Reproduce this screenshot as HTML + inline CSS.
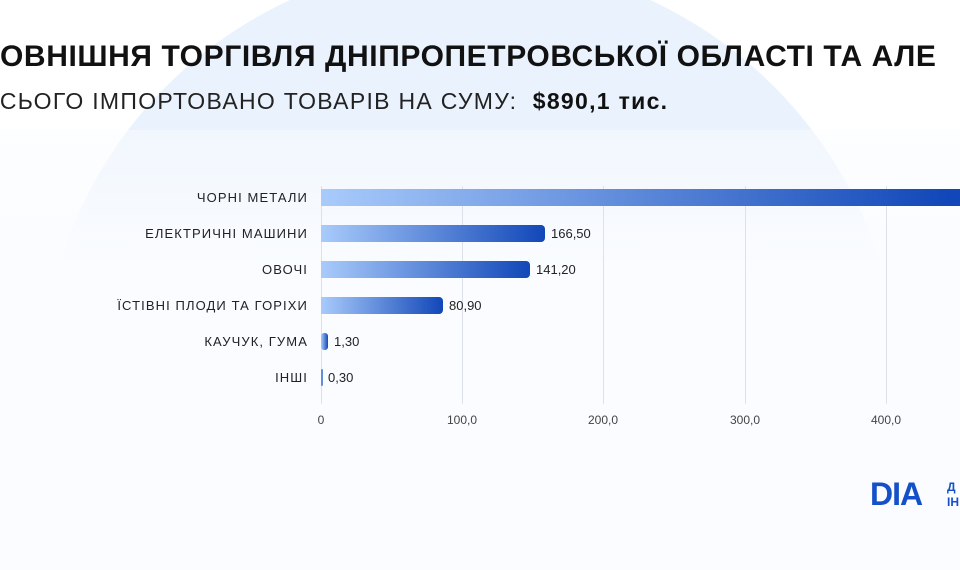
<!DOCTYPE html>
<html><head><meta charset="utf-8"><style>
html,body{margin:0;padding:0;width:960px;height:570px;overflow:hidden}
body{font-family:"Liberation Sans","DejaVu Sans",sans-serif;}
.wrap{position:relative;width:960px;height:570px;overflow:hidden;background:radial-gradient(circle 430px at 470px 390px,#e9f2fd 429px,#fff 430px)}
.fade{position:absolute;left:0;top:130px;width:960px;height:440px;background:linear-gradient(180deg,rgba(250,252,255,0.5),rgba(250,252,255,0.97) 30%,#fafcff);}
.t1{position:absolute;left:-19px;top:40px;font-size:30px;font-weight:bold;color:#111;white-space:nowrap;letter-spacing:0.6px}
.t2{position:absolute;left:-16px;top:88px;font-size:23px;color:#222;white-space:nowrap;letter-spacing:1.3px}
.t2 b{color:#111}
.lab{position:absolute;right:652px;font-size:13px;color:#222;white-space:nowrap;letter-spacing:1.1px}
.bar{position:absolute;left:321px;height:17px;border-radius:0 4px 4px 0;background:linear-gradient(90deg,#a9cbfb,#1147b8);}
.val{position:absolute;font-size:13px;color:#222}
.grid{position:absolute;top:186px;width:1px;height:218px;background:#dde2ea}
.tick{position:absolute;top:413px;font-size:12px;color:#444;transform:translateX(-50%)}
.logo{position:absolute;left:870px;top:476px;font-size:32px;font-weight:900;color:#1450c8;letter-spacing:-1px}
.logo2{position:absolute;left:947px;top:480px;font-size:12px;color:#1450c8;line-height:15px;font-weight:bold}
</style></head><body><div class="wrap">
<div class="fade"></div>
<div class="t1">ЗОВНІШНЯ ТОРГІВЛЯ ДНІПРОПЕТРОВСЬКОЇ ОБЛАСТІ ТА АЛЕ</div>
<div class="t2">ВСЬОГО ІМПОРТОВАНО ТОВАРІВ НА СУМУ:&nbsp; <b>$890,1 тис.</b></div>
<div class="grid" style="left:321px"></div><div class="grid" style="left:462px"></div><div class="grid" style="left:603px"></div><div class="grid" style="left:745px"></div><div class="grid" style="left:886px"></div>
<div class="lab" style="top:190px">ЧОРНІ МЕТАЛИ</div>
<div class="lab" style="top:226px">ЕЛЕКТРИЧНІ МАШИНИ</div>
<div class="lab" style="top:262px">ОВОЧІ</div>
<div class="lab" style="top:298px">ЇСТІВНІ ПЛОДИ ТА ГОРІХИ</div>
<div class="lab" style="top:334px">КАУЧУК, ГУМА</div>
<div class="lab" style="top:370px">ІНШІ</div>
<div class="bar" style="top:189px;width:639px;border-radius:0;background:linear-gradient(90deg,#a9cbfb,#1147b8 98%)"></div>
<div class="bar" style="top:225px;width:224px"></div><div class="val" style="left:551px;top:226px">166,50</div>
<div class="bar" style="top:261px;width:209px"></div><div class="val" style="left:536px;top:262px">141,20</div>
<div class="bar" style="top:297px;width:122px"></div><div class="val" style="left:449px;top:298px">80,90</div>
<div class="bar" style="top:333px;width:7px;border-radius:3px"></div><div class="val" style="left:334px;top:334px">1,30</div>
<div class="bar" style="top:369px;width:2px;border-radius:1px;background:#5d8fe0"></div><div class="val" style="left:328px;top:370px">0,30</div>
<div class="tick" style="left:321px">0</div><div class="tick" style="left:462px">100,0</div><div class="tick" style="left:603px">200,0</div><div class="tick" style="left:745px">300,0</div><div class="tick" style="left:886px">400,0</div>
<div class="logo">DIA</div>
<div class="logo2">Д<br>ІН</div>
</div></body></html>
